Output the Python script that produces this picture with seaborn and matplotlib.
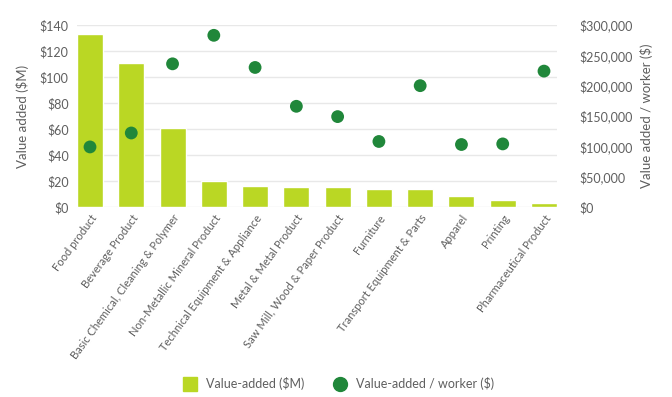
import matplotlib
matplotlib.use("Agg")
import matplotlib.pyplot as plt
import matplotlib.ticker as mticker
from matplotlib.lines import Line2D
import seaborn as sns
import pandas as pd

# --- data ---
industries = [
    "Food product", "Beverage Product", "Basic Chemical, Cleaning & Polymer",
    "Non-Metallic Mineral Product", "Technical Equipment & Appliance",
    "Metal & Metal Product", "Saw Mill, Wood & Paper Product", "Furniture",
    "Transport Equipment & Parts", "Apparel", "Printing", "Pharmaceutical Product",
]
value_added_m = [133, 110.5, 61, 20, 16.5, 15.5, 15.5, 14, 14, 8.5, 5.5, 3]
value_per_worker = [99000, 122000, 236000, 283000, 230000, 166000,
                    149000, 108000, 200000, 103000, 104000, 224000]

BAR = "#bad724"
DOT = "#20873a"
TXT = "#5f5f5f"

df = pd.DataFrame({"industry": industries, "va": value_added_m, "vpw": value_per_worker})

sns.set_theme(style="white")
plt.rcParams["font.family"] = ["Lato", "DejaVu Sans"]

fig = plt.figure(figsize=(6.72, 3.97), dpi=100)
ax = fig.add_axes([77 / 672, 1 - 207 / 397, 480 / 672, 182 / 397])

sns.barplot(data=df, x="industry", y="va", color=BAR, width=0.63,
            saturation=1, ax=ax, zorder=2)
ax.set_xlim(-0.315, 11.315)
ax.set_ylim(0, 140)
ax.yaxis.set_major_locator(mticker.MultipleLocator(20))
ax.yaxis.set_major_formatter(mticker.FuncFormatter(lambda v, p: f"${v:.0f}"))
ax.grid(axis="y", color="#e8e8e8", linewidth=1, zorder=0)
ax.set_axisbelow(True)
ax.set_xlabel("")
ax.set_ylabel("Value added ($M)", color=TXT, fontsize=9.5, labelpad=8)
ax.tick_params(axis="y", colors=TXT, labelsize=9, length=0, pad=6)
ax.tick_params(axis="x", colors=TXT, labelsize=8, length=0, pad=4)
plt.setp(ax.get_xticklabels(), rotation=54, ha="right", rotation_mode="anchor")
for s in ax.spines.values():
    s.set_visible(False)

ax2 = ax.twinx()
sns.scatterplot(data=df, x="industry", y="vpw", color=DOT, s=85,
                edgecolor="none", ax=ax2, zorder=3)
ax2.set_ylim(0, 300000)
ax2.yaxis.set_major_locator(mticker.MultipleLocator(50000))
ax2.yaxis.set_major_formatter(mticker.FuncFormatter(lambda v, p: f"${v:,.0f}"))
ax2.set_ylabel("Value added / worker ($)", color=TXT, fontsize=9.5, labelpad=5)
ax2.tick_params(axis="y", colors=TXT, labelsize=9, length=0, pad=16)
ax2.grid(False)
for s in ax2.spines.values():
    s.set_visible(False)

handles = [
    Line2D([], [], marker="s", linestyle="none", markersize=10,
           markerfacecolor=BAR, markeredgecolor=BAR, label="Value-added ($M)"),
    Line2D([], [], marker="o", linestyle="none", markersize=10,
           markerfacecolor=DOT, markeredgecolor=DOT, label="Value-added / worker ($)"),
]
fig.legend(handles=handles, loc="center", bbox_to_anchor=(0.5, 1 - 384 / 397),
           ncol=2, frameon=False, fontsize=9, labelcolor=TXT,
           handletextpad=0.3, columnspacing=1.8)

fig.savefig("out.png", dpi=100)
